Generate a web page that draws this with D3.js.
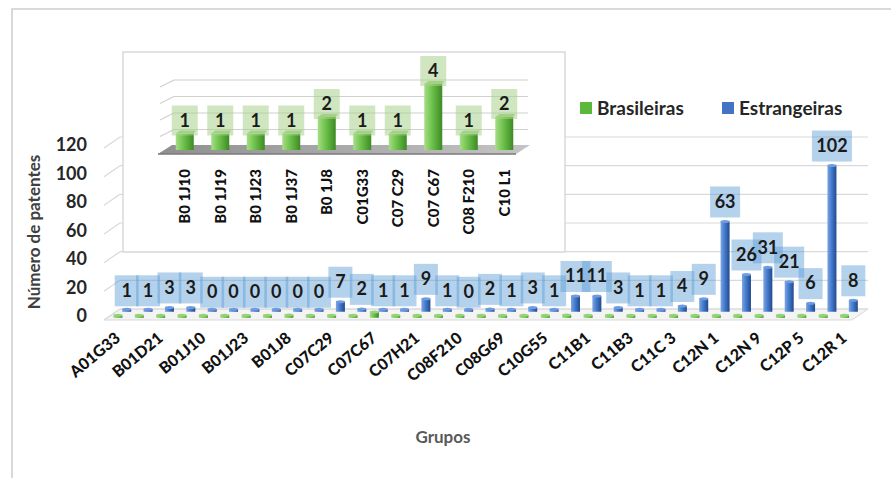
<!DOCTYPE html>
<html>
<head>
<meta charset="utf-8">
<script src="https://cdn.jsdelivr.net/npm/d3@7"></script>
<style>
  body { margin: 0; background: #fff; }
  svg { display: block; font-family: Lato, "Open Sans", sans-serif; }
</style>
</head>
<body>
<svg id="chart" width="891" height="478"></svg>
<script>
// main chart data (odd groups are not labelled on the axis)
const groups = ['A01G33','A01H13','B01D21','B01D53','B01J10','B01J19','B01J23','B01J37','B01J8','C01G33',
  'C07C29','C07C51','C07C67','C07C69','C07H21','C08B37','C08F210','C08G63','C08G69','C10G3',
  'C10G55','C10L1','C11B1','C11B13','C11B3','C11C1','C11C 3','C12M1','C12N 1','C12N15',
  'C12N 9','C12P19','C12P 5','C12P7','C12R 1']
const brasileiras = [0,0,0,0,1,1,1,1,2,1, 1,0,4,0,0,0,1,0,0,0, 0,2,0,0,0,0,0,0,0,0, 0,0,0,0,0]
const estrangeiras = [1,1,3,3,0,0,0,0,0,0, 7,2,1,1,9,1,0,2,1,3, 1,11,11,3,1,1,4,9,63,26, 31,21,6,102,8]
const yTicks = [0,20,40,60,80,100,120]
const seriesNames = ['Brasileiras','Estrangeiras']

// inset data
const insetGroups = ['B0 1J10','B0 1J19','B0 1J23','B0 1J37','B0 1J8','C01G33','C07 C29','C07 C67','C08 F210','C10 L1']
const insetValues = [1,1,1,1,2,1,1,4,1,2]
const insetTicks = [0,1,2,3,4]

const svg = d3.select('#chart')
const defs = svg.append('defs')

const grad = ( id, stops ) => {
  const g = defs.append('linearGradient').attr('id', id).attr('x1', 0).attr('x2', 1).attr('y1', 0).attr('y2', 0)
  stops.forEach( ( [ o, c ] ) => g.append('stop').attr('offset', o).attr('stop-color', c) )
}
grad('blueGrad', [ [0,'#7aa6e3'], [0.4,'#4a7fd0'], [1,'#1f4a8e'] ])
grad('greenGrad', [ [0,'#a6de86'], [0.45,'#6cc04a'], [1,'#3d8a24'] ])
grad('floorGrad', [ [0,'#8f8f8f'], [1,'#c4c4c4'] ])

// outer frame
svg.append('path')
  .attr('d', 'M12,478 V9 H891')
  .attr('fill', 'none').attr('stroke', '#d9d9d9').attr('stroke-width', 2)

// ---------- main chart ----------
const depth = { dx: 16, dy: -11 }
const frontY = 320
const x = d3.scaleBand().domain(groups).range([104, 852])
const h = d3.scaleLinear().domain([0, 120]).range([0, 172])
const yAxisScale = d3.scaleLinear().domain([0, 120]).range([316, 145])

const wall = svg.append('g')
wall.append('path')
  .attr('d', `M104,${frontY} L852,${frontY} L${852 + depth.dx},${frontY + depth.dy} L${104 + depth.dx},${frontY + depth.dy} Z`)
  .attr('fill', '#f4f4f4').attr('stroke', '#d9d9d9')

yTicks.forEach( v => {
  const yb = frontY + depth.dy - h(v)
  wall.append('line')
    .attr('x1', 104).attr('y1', frontY - h(v)).attr('x2', 104 + depth.dx).attr('y2', yb)
    .attr('stroke', '#d9d9d9').attr('stroke-width', 1.2)
  wall.append('line')
    .attr('x1', 104 + depth.dx).attr('y1', yb).attr('x2', 868).attr('y2', yb)
    .attr('stroke', '#d9d9d9').attr('stroke-width', 1.2)
} )

// y axis
const yAxis = svg.append('g')
  .attr('transform', 'translate(90,0)')
  .call( d3.axisLeft(yAxisScale).tickValues(yTicks).tickSize(0).tickPadding(3) )
yAxis.select('.domain').remove()
yAxis.selectAll('text')
  .attr('font-family', 'Lato, sans-serif').attr('font-size', 18).attr('font-weight', 700).attr('fill', '#262626')

svg.append('text')
  .attr('transform', 'translate(40,232) rotate(-90)')
  .attr('text-anchor', 'middle')
  .attr('font-size', 17).attr('font-weight', 700).attr('fill', '#404040')
  .text('Número de patentes')

// x axis (every other group labelled)
const xAxis = svg.append('g')
  .attr('transform', 'translate(0,338)')
  .call( d3.axisBottom(x).tickValues( groups.filter( ( d, i ) => i % 2 === 0 ) ).tickSize(0) )
xAxis.select('.domain').remove()
xAxis.selectAll('text')
  .attr('x', 4).attr('y', 0).attr('dy', '0.35em')
  .attr('transform', 'rotate(-40)')
  .attr('text-anchor', 'end')
  .attr('font-family', 'Lato, sans-serif').attr('font-size', 16).attr('font-weight', 900).attr('fill', '#111')

svg.append('text')
  .attr('x', 443).attr('y', 443)
  .attr('text-anchor', 'middle')
  .attr('font-size', 17).attr('font-weight', 700).attr('fill', '#595959')
  .text('Grupos')

// legend
const legend = svg.append('g')
const legendPos = [ 580, 722 ]
const legendFill = [ '#5cb83c', '#4472c4' ]
seriesNames.forEach( ( name, i ) => {
  legend.append('rect').attr('x', legendPos[i]).attr('y', 102).attr('width', 12).attr('height', 12).attr('fill', legendFill[i])
  legend.append('text')
    .attr('x', legendPos[i] + 17).attr('y', 115)
    .attr('font-size', 19).attr('font-weight', 700).attr('fill', '#262626')
    .text(name)
} )

// ---------- inset ----------
const inset = svg.append('g')
inset.append('rect')
  .attr('x', 123).attr('y', 52).attr('width', 442).attr('height', 200)
  .attr('fill', '#fff').attr('stroke', '#d9d9d9').attr('stroke-width', 1.5)

const xi = d3.scaleBand().domain(insetGroups).range([167, 522])
const hi = d3.scaleLinear().domain([0, 4]).range([0, 66])
const iBase = 150, iBack = 146

insetTicks.forEach( v => {
  inset.append('line')
    .attr('x1', 160).attr('y1', iBack + 7 - hi(v)).attr('x2', 174).attr('y2', iBack - hi(v))
    .attr('stroke', '#d0d0d0').attr('stroke-width', 1.2)
  inset.append('line')
    .attr('x1', 174).attr('y1', iBack - hi(v)).attr('x2', 528).attr('y2', iBack - hi(v))
    .attr('stroke', '#d0d0d0').attr('stroke-width', 1.2)
} )
inset.append('path')
  .attr('d', `M158,${iBase + 4} L516,${iBase + 4} L530,${iBack - 1} L172,${iBack - 1} Z`)
  .attr('fill', 'url(#floorGrad)')
inset.append('line')
  .attr('x1', 158).attr('y1', iBase + 4).attr('x2', 516).attr('y2', iBase + 4)
  .attr('stroke', '#7a7a7a').attr('stroke-width', 1.5)

insetValues.forEach( ( v, i ) => {
  const cx = xi(insetGroups[i]) + xi.bandwidth() / 2
  const top = iBase - hi(v)
  inset.append('rect')
    .attr('x', cx - 9).attr('y', top).attr('width', 18).attr('height', hi(v))
    .attr('fill', 'url(#greenGrad)')
  inset.append('path')
    .attr('d', `M${cx - 9},${top} L${cx - 5},${top - 3} L${cx + 11},${top - 3} L${cx + 9},${top} Z`)
    .attr('fill', '#9ad67a')
  inset.append('rect')
    .attr('x', cx - 13).attr('y', top - 28).attr('width', 26).attr('height', 30)
    .attr('fill', '#a9d18e').attr('opacity', 0.55)
  inset.append('text')
    .attr('x', cx).attr('y', top - 13).attr('dy', '0.35em')
    .attr('text-anchor', 'middle')
    .attr('font-size', 18).attr('font-weight', 700).attr('fill', '#1a1a1a')
    .text(v)
  inset.append('text')
    .attr('transform', `translate(${cx + 5.5},169) rotate(-90)`)
    .attr('text-anchor', 'end')
    .attr('font-size', 15).attr('font-weight', 900).attr('fill', '#111')
    .text(insetGroups[i])
} )

// ---------- main bars ----------
const bars = svg.append('g')
const bar = ( cx, base, v, fill, cap ) => {
  const hh = Math.max( h(v), 2.5 )
  bars.append('rect')
    .attr('x', cx - 4.5).attr('y', base - hh).attr('width', 9).attr('height', hh)
    .attr('fill', fill)
  bars.append('ellipse')
    .attr('cx', cx).attr('cy', base - hh).attr('rx', 4.5).attr('ry', 1.5)
    .attr('fill', cap)
}

// back row: Estrangeiras
estrangeiras.forEach( ( v, i ) => {
  const cx = x(groups[i]) + x.bandwidth() / 2 + depth.dx * 0.75
  bar( cx, frontY + depth.dy * 0.75, v, 'url(#blueGrad)', '#6f9be0' )
} )
// front row: Brasileiras
brasileiras.forEach( ( v, i ) => {
  const cx = x(groups[i]) + x.bandwidth() / 2 + depth.dx * 0.2
  bar( cx, frontY + depth.dy * 0.2, v, 'url(#greenGrad)', '#94d474' )
} )

// data labels for Estrangeiras
const labels = svg.append('g')
estrangeiras.forEach( ( v, i ) => {
  const cx = x(groups[i]) + x.bandwidth() / 2 + depth.dx * 0.75
  const top = frontY + depth.dy * 0.75 - h(v)
  const w = String(v).length === 1 ? 24 : String(v).length === 2 ? 30 : 40
  labels.append('rect')
    .attr('x', cx - w / 2).attr('y', top - 35).attr('width', w).attr('height', 31)
    .attr('fill', '#5b9bd5').attr('opacity', 0.45)
} )
estrangeiras.forEach( ( v, i ) => {
  const cx = x(groups[i]) + x.bandwidth() / 2 + depth.dx * 0.75
  const top = frontY + depth.dy * 0.75 - h(v)
  labels.append('text')
    .attr('x', cx).attr('y', top - 20).attr('dy', '0.35em')
    .attr('text-anchor', 'middle')
    .attr('font-size', 18).attr('font-weight', 700).attr('fill', '#1a1a1a')
    .text(v)
} )
</script>
</body>
</html>
